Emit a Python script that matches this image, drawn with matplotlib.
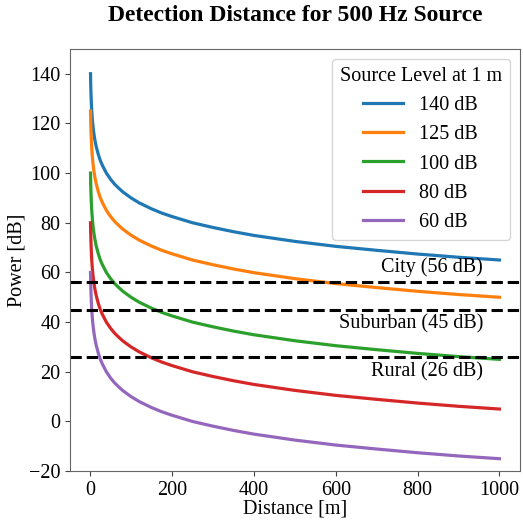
import matplotlib
matplotlib.use('Agg')
import matplotlib.pyplot as plt

plt.rcParams['font.family'] = ['Liberation Serif', 'DejaVu Serif']
plt.rcParams['mathtext.fontset'] = 'stix'

# distances (m)
distance = [1, 1.5, 2, 3, 4, 5, 6, 8, 10, 12, 15, 20, 25, 30, 40, 50, 60,
            70, 80, 100, 120, 150, 175, 200, 250, 300, 350, 400, 500, 600,
            700, 800, 900, 1000]

# received power for each source level (dB)
p140 = [140, 135.6, 132.5, 128.1, 124.9, 122.5, 120.5, 117.4, 115, 113,
        110.6, 107.5, 105, 103.1, 99.9, 97.5, 95.5, 93.9, 92.4, 90, 88,
        85.6, 83.9, 82.5, 80, 78.1, 76.4, 74.9, 72.5, 70.5, 68.9, 67.4,
        66.1, 65]
p125 = [125, 120.6, 117.5, 113.1, 109.9, 107.5, 105.5, 102.4, 100, 98,
        95.6, 92.5, 90, 88.1, 84.9, 82.5, 80.5, 78.9, 77.4, 75, 73, 70.6,
        68.9, 67.5, 65, 63.1, 61.4, 59.9, 57.5, 55.5, 53.9, 52.4, 51.1, 50]
p100 = [100, 95.6, 92.5, 88.1, 84.9, 82.5, 80.5, 77.4, 75, 73, 70.6, 67.5,
        65, 63.1, 59.9, 57.5, 55.5, 53.9, 52.4, 50, 48, 45.6, 43.9, 42.5,
        40, 38.1, 36.4, 34.9, 32.5, 30.5, 28.9, 27.4, 26.1, 25]
p80 = [80, 75.6, 72.5, 68.1, 64.9, 62.5, 60.5, 57.4, 55, 53, 50.6, 47.5,
       45, 43.1, 39.9, 37.5, 35.5, 33.9, 32.4, 30, 28, 25.6, 23.9, 22.5, 20,
       18.1, 16.4, 14.9, 12.5, 10.5, 8.9, 7.4, 6.1, 5]
p60 = [60, 55.6, 52.5, 48.1, 44.9, 42.5, 40.5, 37.4, 35, 33, 30.6, 27.5,
       25, 23.1, 19.9, 17.5, 15.5, 13.9, 12.4, 10, 8, 5.6, 3.9, 2.5, 0,
       -1.9, -3.6, -5.1, -7.5, -9.5, -11.1, -12.6, -13.9, -15]

series = [p140, p125, p100, p80, p60]
labels = ['140 dB', '125 dB', '100 dB', '80 dB', '60 dB']

# ambient noise thresholds
noise_names = ['City', 'Suburban', 'Rural']
noise_levels = [56, 45, 26]

fig = plt.figure(figsize=(5.23, 5.2), dpi=100)
ax = fig.add_axes([0.134, 0.094, 0.86, 0.812])

for y, lab in zip(series, labels):
    ax.plot(distance, y, linewidth=2.3, label=lab)

for name, lvl in zip(noise_names, noise_levels):
    ax.axhline(lvl, color='black', linestyle='--', linewidth=2.2)
    txt = '%s (%d dB)' % (name, lvl)
    if name == 'City':
        ax.text(960, lvl + 2.0, txt, ha='right', va='bottom', fontsize=14.5)
    else:
        ax.text(960, lvl - 2.0, txt, ha='right', va='top', fontsize=14.5)

ax.set_ylim(-20, 150)
ax.set_xlabel('Distance [m]', fontsize=14.5, labelpad=0)
ax.set_ylabel('Power [dB]', fontsize=14.5, labelpad=2)
ax.set_title('Detection Distance for 500 Hz Source', fontsize=17,
             fontweight='bold', pad=20)
ax.tick_params(labelsize=14.5, color='#444444')
for sp in ax.spines.values():
    sp.set_color('#666666')
ax.legend(title='Source Level at 1 m', loc='upper right', fontsize=14.5,
          title_fontsize=14.5)

fig.savefig('out.png', dpi=100)
